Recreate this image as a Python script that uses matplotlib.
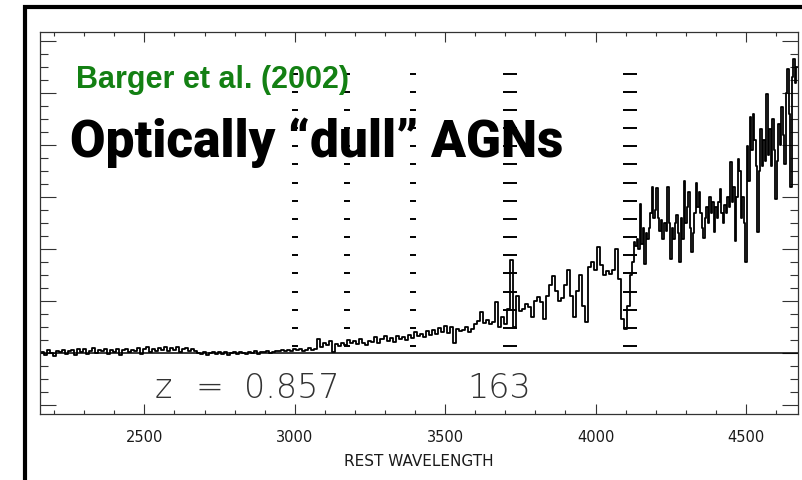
import numpy as np
import matplotlib.pyplot as plt
from matplotlib.lines import Line2D
from matplotlib.ticker import MultipleLocator

# flux in arbitrary units (one unit = one major y tick).
# blue part: 10 A bins starting at 2160 A
blue_start, blue_bin = 2160, 10
flux_blue = [
    0.02, -0.03, 0.05, 0.00, -0.05, 0.04, 0.01, 0.06, -0.02, 0.03,   # 2160
    0.05, -0.04, 0.07, 0.02, 0.08, -0.01, 0.04, 0.09, 0.00, 0.05,    # 2260
    0.03, 0.08, -0.02, 0.06, 0.02, 0.07, -0.03, 0.05, 0.08, 0.01,    # 2360
    0.06, 0.03, 0.09, -0.02, 0.07, 0.12, 0.02, 0.08, 0.04, 0.10,     # 2460
    0.05, 0.11, 0.03, 0.09, 0.06, 0.12, 0.02, 0.08, 0.10, 0.04,      # 2560
    0.07, 0.03, 0.00, -0.02, 0.01, -0.03, 0.00, 0.02, -0.02, 0.01,   # 2660
    -0.01, 0.02, -0.03, 0.00, 0.01, -0.02, 0.02, 0.00, -0.01, 0.02,  # 2760
    0.00, 0.03, -0.01, 0.02, 0.01, 0.03, 0.00, 0.02, 0.04, 0.03,     # 2860
    0.05, 0.03, 0.06, 0.04, 0.07, 0.05, 0.08, 0.04, 0.06, 0.09,      # 2960
    0.05, 0.08, 0.26, 0.12, 0.20, 0.15, 0.24, 0.02, 0.18, 0.14,      # 3060
    0.20, 0.16, 0.25, 0.19, 0.23, 0.17, 0.26, 0.20, 0.15, 0.24,      # 3160
    0.22, 0.30, 0.20, 0.27, 0.32, 0.24, 0.29, 0.22, 0.33, 0.27,      # 3260
    0.30, 0.25, 0.35, 0.28, 0.40, 0.32, 0.36, 0.30, 0.42, 0.35,      # 3360
    0.45, 0.36, 0.48, 0.40, 0.52, 0.38, 0.50, 0.20, 0.46, 0.42,      # 3460
    0.44, 0.50, 0.40, 0.47, 0.55, 0.62, 0.78, 0.58, 0.64, 0.55,      # 3560
    0.60, 0.98, 0.50, 0.70, 0.55, 0.85, 1.79, 0.50, 1.10, 0.80,      # 3660
    0.85, 0.95, 0.88, 0.70, 1.00, 1.08, 0.98, 0.65, 1.10, 1.30,      # 3760
    1.48, 1.20, 1.00, 1.05, 1.30, 1.60, 1.10, 0.69, 1.20, 1.50,      # 3860
    0.90, 0.60, 1.65, 1.75, 1.60, 2.03, 1.70, 1.50, 1.58, 1.52,      # 3960
    1.60, 2.00, 1.42, 0.65, 0.46, 0.90,                              # 4060
]
# red part: 5 A bins starting at 4120 A
red_start, red_bin = 4120, 5
flux_red = [
    1.50, 1.75, 2.13, 2.05, 2.20, 2.00, 2.87, 2.10, 2.40, 1.71,      # 4120
    2.30, 2.20, 2.40, 2.70, 3.19, 2.60, 2.75, 3.17, 2.60, 2.35,      # 4170
    2.55, 2.20, 2.50, 2.35, 3.20, 2.50, 1.80, 2.40, 2.20, 2.50,      # 4220
    2.65, 2.30, 1.75, 2.60, 2.20, 3.30, 2.50, 2.80, 3.10, 2.40,      # 4270
    1.94, 2.30, 2.70, 3.27, 2.80, 3.10, 2.70, 2.40, 2.22, 2.60,      # 4320
    2.80, 2.50, 3.00, 2.70, 2.90, 2.33, 2.80, 2.60, 2.90, 3.15,      # 4370
    2.70, 2.50, 2.85, 2.70, 3.00, 2.80, 3.67, 2.90, 3.20, 2.15,      # 4420
    3.00, 3.73, 3.50, 2.60, 3.00, 2.50, 1.75, 3.98, 3.30, 4.54,      # 4470
    3.90, 4.60, 4.10, 3.60, 2.33, 3.50, 4.30, 3.60, 4.10, 3.70,      # 4520
    4.98, 3.80, 4.30, 3.60, 4.50, 3.90, 2.96, 3.70, 4.40, 4.00,      # 4570
    4.73, 4.20, 3.63, 5.00, 5.46, 4.60, 3.20, 5.30, 5.65, 5.20,      # 4620
    5.50,                                                            # 4670
]

# line markers (columns of dashes) and whether they use wide dashes
line_waves = [3001, 3173, 3394, 3716, 4115]
line_wide = [False, False, False, True, True]

W, H = 803, 481
fig = plt.figure(figsize=(W / 100, H / 100), dpi=100)
ax = fig.add_axes([40 / W, 1 - 415 / H, 758 / W, 382 / H])

wave = np.concatenate([blue_start + blue_bin * np.arange(len(flux_blue)),
                       red_start + red_bin * np.arange(len(flux_red))])
flux = np.concatenate([flux_blue, flux_red])
ax.plot(wave, flux, color="black", lw=1.3, drawstyle="steps-mid", zorder=3)
ax.axhline(0, color="black", lw=1.1, zorder=2)

dash_y = np.linspace(0.135, 5.37, 16)
for lw_, wide in zip(line_waves, line_wide):
    ax.plot([lw_] * len(dash_y), dash_y, ls="none", marker="_",
            ms=10 if wide else 3.8, mew=1.4, color="black", zorder=2)

ax.set_xlim(2153, 4673)
ax.set_ylim(-1.173, 6.173)
ax.xaxis.set_major_locator(MultipleLocator(500))
ax.xaxis.set_minor_locator(MultipleLocator(100))
ax.yaxis.set_major_locator(MultipleLocator(1))
ax.yaxis.set_minor_locator(MultipleLocator(0.25))
ax.tick_params(which="both", direction="in", top=True, right=True,
               color="#333333", width=0.8, labelleft=False)
ax.tick_params(axis="x", which="major", length=7, pad=11,
               labelsize=10.5, labelcolor="#1a1a1a")
ax.tick_params(axis="x", which="minor", length=3)
ax.tick_params(axis="y", which="major", length=11.5)
ax.tick_params(axis="y", which="minor", length=6)
for s in ax.spines.values():
    s.set_color("#333333")
    s.set_linewidth(0.9)
ax.set_xlabel("REST WAVELENGTH", fontsize=11, color="#1a1a1a", labelpad=6)

# redshift and object id, drawn in a thin font
big = dict(transform=ax.transAxes, fontsize=24, fontweight="light",
           color="#333333", va="baseline", ha="left")
ax.text((155 - 40) / 758, 0.0445, "z", **big)
ax.text((196 - 40) / 758, 0.0445, "=", **big)
ax.text((244 - 40) / 758, 0.0445, "0.857", **big)
ax.text((467 - 40) / 758, 0.0445, "163", **big)

ax.text(0.0475, 0.856, "Barger et al. (2002)", transform=ax.transAxes,
        family="Liberation Sans", fontweight="bold", fontsize=22, color="#138013",
        va="baseline", ha="left", zorder=5)
ax.text(0.0396, 0.675, "Optically \u201cdull\u201d AGNs", transform=ax.transAxes,
        family="Roboto", fontweight="heavy", fontsize=37, color="black",
        va="baseline", ha="left", zorder=5)

# thick black frame of the slide (cut off on the right and bottom)
fx = 25 / W
fy = 1 - 8 / H
fig.add_artist(Line2D([fx, fx, 1.02], [-0.02, fy, fy], transform=fig.transFigure,
                      color="black", lw=3, solid_joinstyle="miter"))

fig.savefig("out.png", dpi=100)
